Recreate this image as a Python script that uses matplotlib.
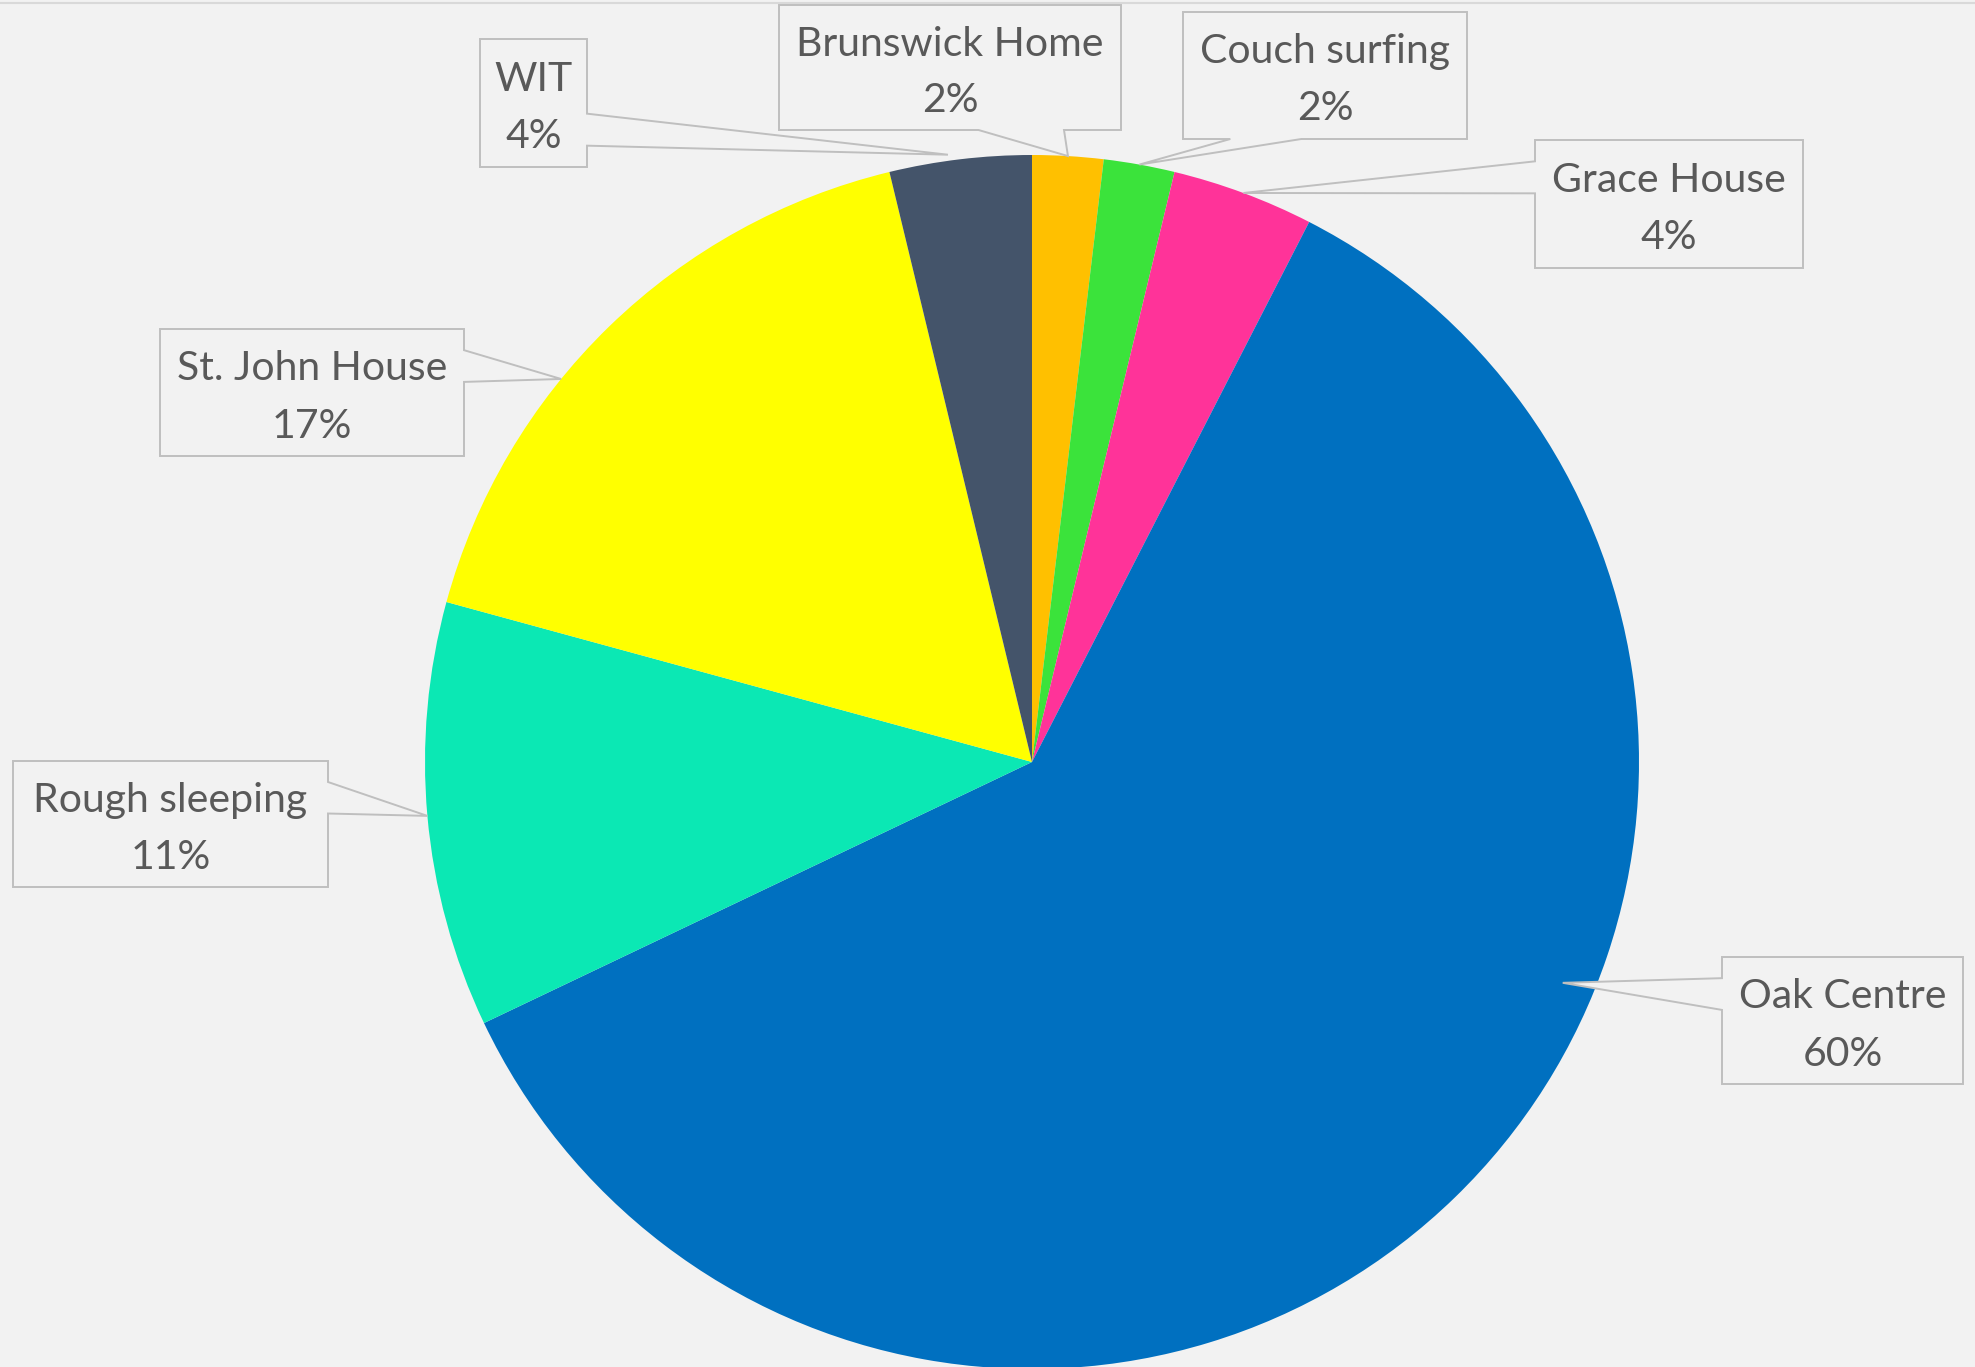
import numpy as np
import matplotlib
matplotlib.use('Agg')
import matplotlib.pyplot as plt
from matplotlib.patches import Polygon

plt.rcParams['font.family'] = ['Lato', 'DejaVu Sans']

# slices, clockwise from 12 o'clock (counts give 2/2/4/60/11/17/4 %)
labels = ['Brunswick Home', 'Couch surfing', 'Grace House', 'Oak Centre',
          'Rough sleeping', 'St. John House', 'WIT']
counts = [1, 1, 2, 32, 6, 9, 2]
colors = ['#FFC000', '#3BE33B', '#FF3399', '#0070C0', '#0BE8B4', '#FFFF00', '#44546A']

# callout boxes in pixels from top-left: left, top, right, bottom
boxes = [(779, 5, 1121, 130), (1183, 12, 1467, 139), (1535, 140, 1803, 268),
         (1722, 957, 1963, 1084), (13, 761, 328, 887), (160, 329, 464, 456),
         (480, 39, 587, 167)]
# where the pointer lands: fraction along the slice (clockwise), fraction of radius
tip_pos = [(0.5, 1.0), (0.5, 1.0), (0.5, 1.0), (0.393, 0.947),
           (0.5, 1.0), (0.39, 1.0), (0.42, 1.01)]

W, H = 1975, 1367
cx, cy, R = 1032, 762, 607
bg = '#F2F2F2'
txt = '#595959'
edge = '#BFBFBF'


def callout(box, tip):
    # rectangle with a wedge pointer, base placed like an office wedgeRectCallout
    l, t, r, b = box
    w, h = r - l, b - t
    mx, my = (l + r) / 2, (t + b) / 2
    dx, dy = tip[0] - mx, tip[1] - my
    if dx >= 0:
        x1, x2 = l + w * 7 / 12, l + w * 10 / 12
    else:
        x1, x2 = l + w * 2 / 12, l + w * 5 / 12
    if dy >= 0:
        y1, y2 = t + h * 7 / 12, t + h * 10 / 12
    else:
        y1, y2 = t + h * 2 / 12, t + h * 5 / 12
    pts = [(l, t)]
    horiz = abs(dx) * h > abs(dy) * w
    if not horiz and dy < 0:
        pts += [(x1, t), tip, (x2, t)]
    pts.append((r, t))
    if horiz and dx > 0:
        pts += [(r, y1), tip, (r, y2)]
    pts.append((r, b))
    if not horiz and dy > 0:
        pts += [(x2, b), tip, (x1, b)]
    pts.append((l, b))
    if horiz and dx < 0:
        pts += [(l, y2), tip, (l, y1)]
    return [(x, H - y) for x, y in pts]


fig = plt.figure(figsize=(W / 100, H / 100), dpi=100, facecolor=bg)
ax = fig.add_axes([0, 0, 1, 1])
ax.set_facecolor(bg)

wedges, _ = ax.pie(counts, colors=colors, startangle=90, counterclock=False,
                   center=(cx, H - cy), radius=R,
                   wedgeprops={'linewidth': 0, 'antialiased': True})

total = sum(counts)
for wdg, lab, n, box, (frac, rf) in zip(wedges, labels, counts, boxes, tip_pos):
    a = np.radians(wdg.theta2 - frac * (wdg.theta2 - wdg.theta1))
    tip = (cx + R * rf * np.cos(a), cy - R * rf * np.sin(a))
    ax.add_patch(Polygon(callout(box, tip), closed=True, facecolor=bg,
                         edgecolor=edge, linewidth=1.4, zorder=3))
    mx = (box[0] + box[2]) / 2
    my = (box[1] + box[3]) / 2
    ax.text(mx, H - (my - 12), lab, ha='center', va='baseline',
            fontsize=29.5, color=txt, zorder=4)
    ax.text(mx, H - (my + 45), '{:.0f}%'.format(100 * n / total), ha='center',
            va='baseline', fontsize=29.5, color=txt, zorder=4)

ax.axhline(H - 3, color='#D9D9D9', linewidth=1.5)
ax.set_xlim(0, W)
ax.set_ylim(0, H)
ax.set_aspect('equal')
ax.axis('off')

fig.savefig('out.png', dpi=100, facecolor=bg)
